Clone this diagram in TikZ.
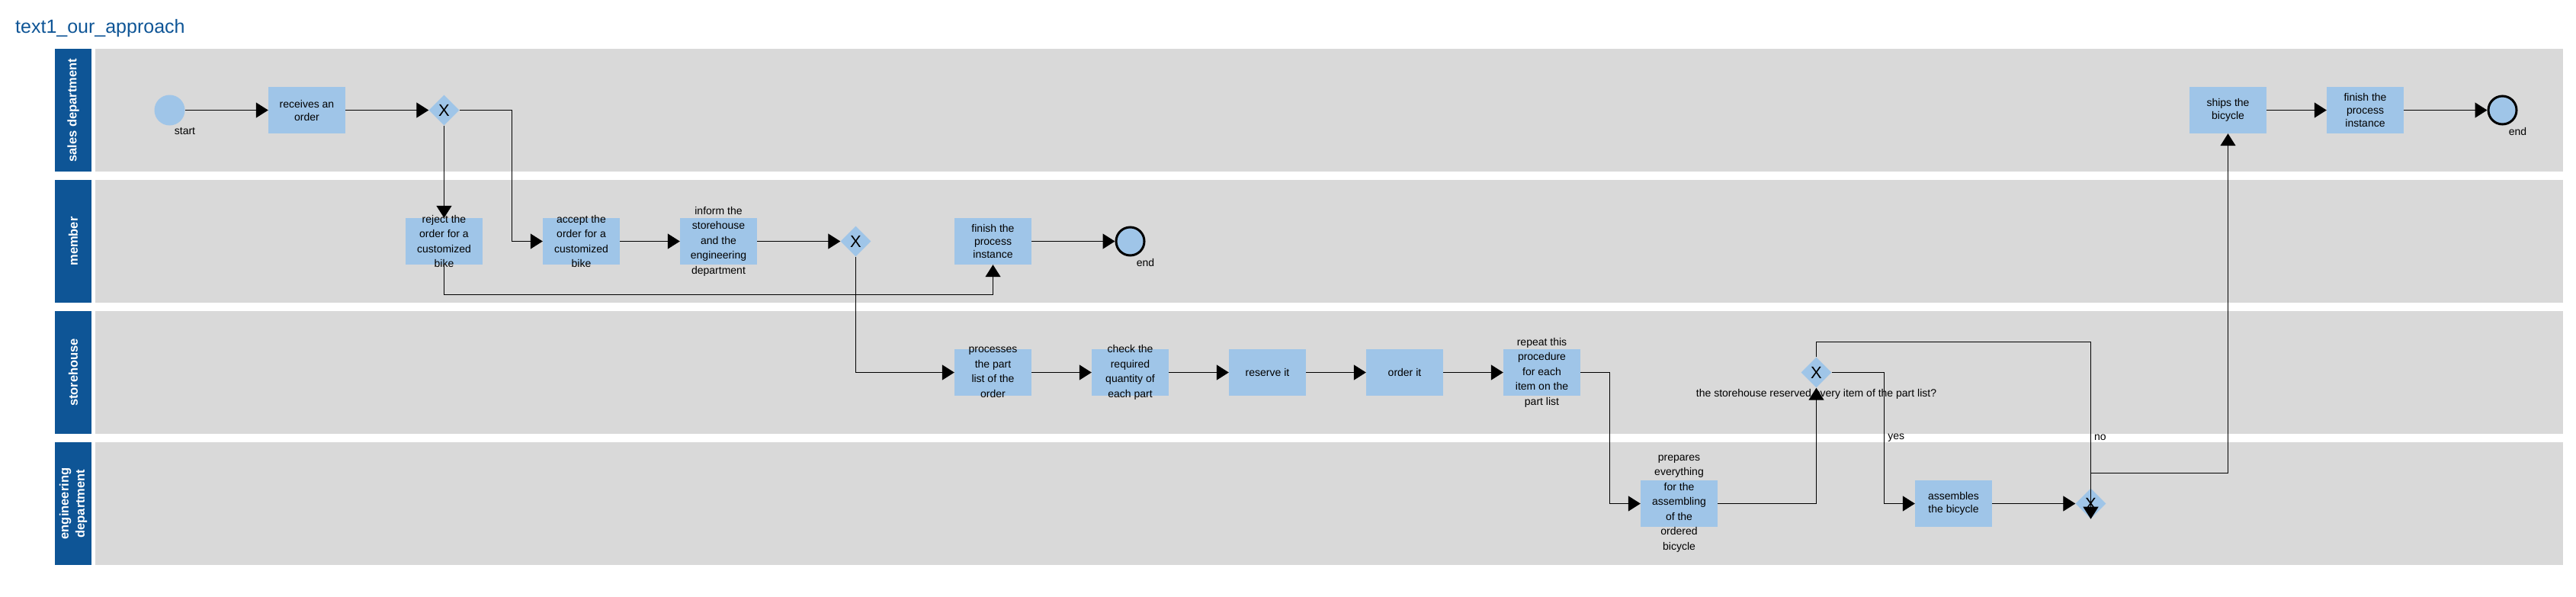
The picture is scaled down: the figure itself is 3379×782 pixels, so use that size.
\documentclass[tikz,border=0pt]{standalone}
\usepackage{fontspec}
\setmainfont{Liberation Sans}
\usepackage{xcolor}
\usepackage{tikz}
\usetikzlibrary{calc}
\usetikzlibrary{arrows.meta}
\usetikzlibrary{shapes.geometric}
\definecolor{laneGray}{RGB}{217,217,217}
\definecolor{headBlue}{RGB}{14,85,150}
\definecolor{boxBlue}{RGB}{159,197,232}
\tikzset{>={Triangle[length=16pt,width=20pt]}}
\tikzset{
  lane/.style = {rectangle, fill=laneGray, minimum width=3237pt, minimum height=161pt, inner sep=0},
  head/.style = {rectangle, fill=headBlue, text=white, font=\fontsize{16.5}{21}\selectfont\bfseries,
                 minimum width=161pt, minimum height=48pt, inner sep=0, rotate=90, align=center},
  task/.style = {rectangle, fill=boxBlue, minimum width=101pt, minimum height=61pt, inner sep=0},
  tasktext/.style = {align=center, inner sep=0, font=\fontsize{14}{17}\selectfont},
  tall/.style = {font=\fontsize{14}{19.5}\selectfont},
  gate/.style = {diamond, fill=boxBlue, minimum width=40pt, minimum height=40pt, inner sep=0,
                 font=\fontsize{22}{22}\selectfont},
  startev/.style = {circle, fill=boxBlue, minimum size=40pt, inner sep=0},
  endev/.style = {circle, fill=boxBlue, draw=black, line width=3pt, minimum size=37pt, inner sep=0},
  lbl/.style = {inner sep=0, font=\fontsize{14}{17}\selectfont},
  evlbl/.style = {lbl, xshift=20pt, yshift=-28pt},
  flow/.style = {->, draw=black, line width=1.2pt},
}

\begin{document}
\begin{tikzpicture}[x=1pt, y=-1pt]
\useasboundingbox (0,0) rectangle (3379,782);
\node [anchor=base west, inner sep=0, text=headBlue, font=\fontsize{25}{30}\selectfont] (title) at (20,43) {text1\_our\_approach};

% lanes
\node [lane] (L1) at (1743.5,144.5) {};
\node [lane] (L2) at (1743.5,316.5) {};
\node [lane] (L3) at (1743.5,488.5) {};
\node [lane] (L4) at (1743.5,660.5) {};
\node [head] (H1) at (96,144.5) {sales department};
\node [head] (H2) at (96,316.5) {member};
\node [head] (H3) at (96,488.5) {storehouse};
\node [head] (H4) at (96,660.5) {engineering\\department};

% sales department
\node [startev, label={[evlbl]center:start}] (S) at (222.5,144.5) {};
\node [task, label={[tasktext]center:{receives an\\order}}] (recv) at (402.5,144.5) {};
\node [gate] (G1) at (582.5,144.5) {X};
\node [task, label={[tasktext]center:{ships the\\bicycle}}] (ship) at (2922.5,144.5) {};
\node [task, label={[tasktext]center:{finish the\\process\\instance}}] (fin3) at (3102.5,144.5) {};
\node [endev, label={[evlbl]center:end}] (E3) at (3282.5,144.5) {};

% member
\node [task, label={[tasktext, tall]center:{reject the\\order for a\\customized\\bike}}] (rej) at (582.5,316.5) {};
\node [task, label={[tasktext, tall]center:{accept the\\order for a\\customized\\bike}}] (acc) at (762.5,316.5) {};
\node [task, label={[tasktext, tall]center:{inform the\\storehouse\\and the\\engineering\\department}}] (inf) at (942.5,316.5) {};
\node [gate] (G2) at (1122.5,316.5) {X};
\node [task, label={[tasktext]center:{finish the\\process\\instance}}] (fin2) at (1302.5,316.5) {};
\node [endev, label={[evlbl]center:end}] (E2) at (1482.5,316.5) {};

% storehouse
\node [task, label={[tasktext, tall]center:{processes\\the part\\list of the\\order}}] (proc) at (1302.5,488.5) {};
\node [task, label={[tasktext, tall]center:{check the\\required\\quantity of\\each part}}] (chk) at (1482.5,488.5) {};
\node [task, label={[tasktext]center:reserve it}] (res) at (1662.5,488.5) {};
\node [task, label={[tasktext]center:order it}] (ord) at (1842.5,488.5) {};
\node [task, label={[tasktext, tall]center:{repeat this\\procedure\\for each\\item on the\\part list}}] (rep) at (2022.5,488.5) {};
\node [gate, label={[lbl, yshift=-28.5pt]center:the storehouse reserved every item of the part list?}] (G3) at (2382.5,488.5) {X};

% engineering department
\node [task, label={[tasktext, tall]center:{prepares\\everything\\for the\\assembling\\of the\\ordered\\bicycle}}] (prep) at (2202.5,660.5) {};
\node [task, label={[tasktext]center:{assembles\\the bicycle}}] (asm) at (2562.5,660.5) {};
\node [gate] (G4) at (2742.5,660.5) {X};

\draw [flow] (S) to (recv);
\draw [flow] (recv) to (G1);
\draw [flow] (G1.south) to (rej.north);
\draw [flow] (G1.east) -| ([xshift=-40pt]acc.west) -- (acc.west);
\draw [flow] (acc) to (inf);
\draw [flow] (inf) to (G2);
\draw [flow] (rej.south) -- ++(0,39) -| (fin2.south);
\draw [flow] (fin2) to (E2);
\draw [flow] (G2.south) |- (proc.west);
\draw [flow] (proc) to (chk);
\draw [flow] (chk) to (res);
\draw [flow] (res) to (ord);
\draw [flow] (ord) to (rep);
\draw [flow] (rep.east) -| ([xshift=-40pt]prep.west) -- (prep.west);
\draw [flow] (prep.east) -| (G3.south);
\draw [flow] (G3.east) -| node [lbl, pos=.75, anchor=west, xshift=4pt] {yes} ([xshift=-40pt]asm.west) -- (asm.west);
\draw [flow] (G3.north) -- ++(0,-20) -| node [lbl, pos=.77, anchor=west, xshift=4pt] {no} (G4.south);
\draw [flow] (asm) to (G4);
\draw [flow] (G4.north) -- ++(0,-20) -| (ship.south);
\draw [flow] (ship) to (fin3);
\draw [flow] (fin3) to (E3);
\end{tikzpicture}
\end{document}
